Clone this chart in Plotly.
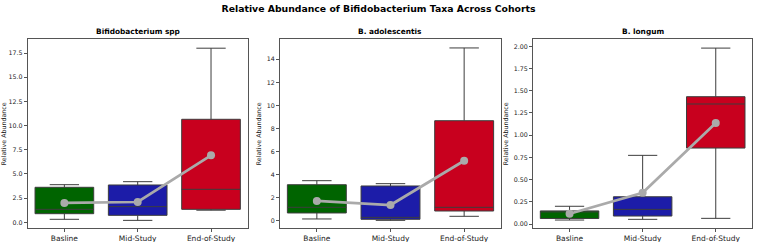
import plotly.graph_objects as go

categories = ["Basline", "Mid-Study", "End-of-Study"]
box_colors = ["#006400", "#1c1ca8", "#c8001e"]

panel_titles = ["Bifidobacterium spp", "B. adolescentis", "B. longum"]

# per panel: lists over categories
spp_q1 = [0.89, 0.72, 1.34]
spp_median = [1.34, 1.62, 3.41]
spp_q3 = [3.62, 3.86, 10.65]
spp_low = [0.31, 0.20, 1.25]
spp_high = [3.89, 4.20, 18.0]
spp_mean = [2.0, 2.1, 6.93]

ado_q1 = [0.67, 0.12, 0.84]
ado_median = [1.16, 0.29, 1.16]
ado_q3 = [3.12, 3.01, 8.67]
ado_low = [0.15, 0.03, 0.38]
ado_high = [3.47, 3.21, 14.98]
ado_mean = [1.71, 1.36, 5.2]

lon_q1 = [0.062, 0.09, 0.855]
lon_median = [0.14, 0.165, 1.351]
lon_q3 = [0.148, 0.307, 1.433]
lon_low = [0.045, 0.053, 0.064]
lon_high = [0.2, 0.773, 1.98]
lon_mean = [0.116, 0.352, 1.137]

panels = [
    (spp_q1, spp_median, spp_q3, spp_low, spp_high, spp_mean),
    (ado_q1, ado_median, ado_q3, ado_low, ado_high, ado_mean),
    (lon_q1, lon_median, lon_q3, lon_low, lon_high, lon_mean),
]

y_ticks = [
    [0, 2.5, 5, 7.5, 10, 12.5, 15, 17.5],
    [0, 2, 4, 6, 8, 10, 12, 14],
    [0, 0.25, 0.5, 0.75, 1.0, 1.25, 1.5, 1.75, 2.0],
]
y_fmt = [".1f", "d", ".2f"]
y_ranges = [[-0.62, 18.92], [-0.66, 15.73], [-0.048, 2.079]]
x_domains = [[0.0366, 0.3272], [0.3699, 0.6618], [0.7041, 0.9938]]
y_domain = [0.0566, 0.8376]

FONT = "DejaVu Sans"
fig = go.Figure()

for p, (q1, med, q3, lo, hi, mean) in enumerate(panels):
    xa = "x" if p == 0 else f"x{p+1}"
    ya = "y" if p == 0 else f"y{p+1}"
    for i, cat in enumerate(categories):
        fig.add_trace(go.Box(
            x=[i], q1=[q1[i]], median=[med[i]], q3=[q3[i]],
            lowerfence=[lo[i]], upperfence=[hi[i]],
            width=0.8, whiskerwidth=0.5,
            fillcolor=box_colors[i],
            line=dict(color="#3d3d3d", width=1),
            boxpoints=False, showlegend=False,
            xaxis=xa, yaxis=ya, hoverinfo="skip",
        ))
    fig.add_trace(go.Scatter(
        x=list(range(len(categories))), y=mean, mode="lines+markers",
        line=dict(color="#aaaaaa", width=2.7),
        marker=dict(color="#aaaaaa", size=8),
        showlegend=False, xaxis=xa, yaxis=ya,
    ))
    sfx = "" if p == 0 else str(p + 1)
    fig.layout["xaxis" + sfx] = dict(
        domain=x_domains[p], anchor=ya, range=[-0.5, 2.5],
        tickvals=list(range(len(categories))), ticktext=categories,
        showgrid=False, zeroline=False, showline=True, mirror=True,
        linecolor="#555555", linewidth=1, ticks="outside", ticklen=3,
        tickcolor="#555555", tickfont=dict(family=FONT, size=7.5, color="#222"),
    )
    fig.layout["yaxis" + sfx] = dict(
        domain=y_domain, anchor=xa, range=y_ranges[p],
        tickvals=y_ticks[p], tickformat=y_fmt[p],
        showgrid=False, zeroline=False, showline=True, mirror=True,
        linecolor="#555555", linewidth=1, ticks="outside", ticklen=3,
        tickcolor="#555555", tickfont=dict(family=FONT, size=6.3, color="#222"),
        title=dict(text="Relative Abundance", standoff=4,
                   font=dict(family=FONT, size=6.3, color="#222")),
    )
    xc = (x_domains[p][0] + x_domains[p][1]) / 2
    fig.add_annotation(
        text=f"<b>{panel_titles[p]}</b>", x=xc, y=y_domain[1], xref="paper",
        yref="paper", xanchor="center", yanchor="bottom", yshift=1,
        showarrow=False, font=dict(family=FONT, size=7.4, color="#000"),
    )

fig.update_layout(
    width=757, height=242,
    margin=dict(l=0, r=0, t=0, b=0),
    paper_bgcolor="white", plot_bgcolor="white",
    title=dict(text="<b>Relative Abundance of Bifidobacterium Taxa Across Cohorts</b>",
               x=0.5, xanchor="center", y=0.965, yanchor="middle",
               font=dict(family=FONT, size=9.3, color="#000")),
    boxmode="overlay",
)

fig.write_html("out.html", config={"displayModeBar": False},
               post_script="document.body.style.margin='0';document.body.style.overflow='hidden';")
